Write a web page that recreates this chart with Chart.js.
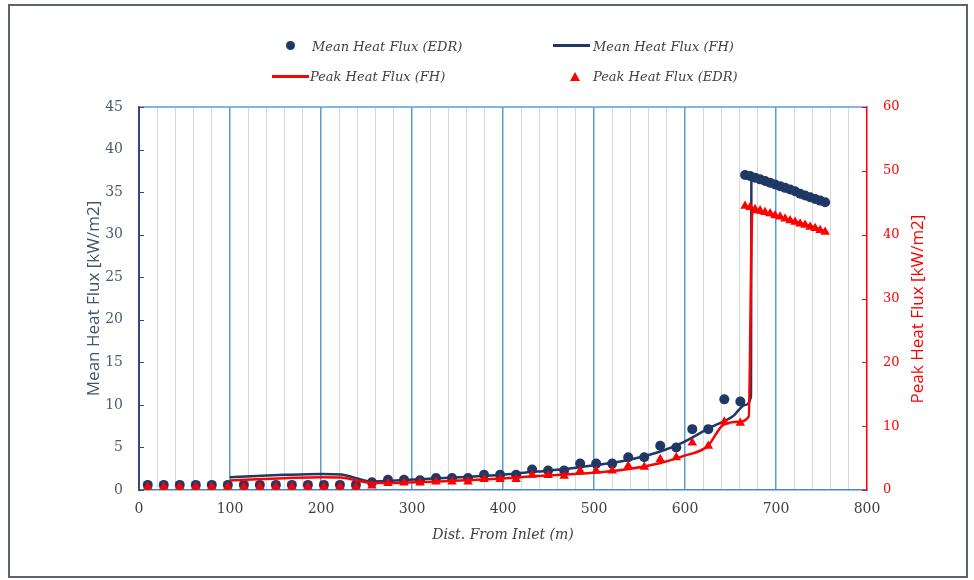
<!DOCTYPE html>
<html><head><meta charset="utf-8">
<script src="https://cdn.jsdelivr.net/npm/chart.js@4.4.1/dist/chart.umd.min.js"></script>
<style>
body{margin:0;background:#fff;}
#wrap{position:relative;width:974px;height:580px;overflow:hidden;background:#fff;}
#c{position:absolute;left:0;top:0;}
#frame{position:absolute;left:8px;top:4px;width:960px;height:574px;box-sizing:border-box;border:2px solid #5a6377;pointer-events:none;}
.lg{position:absolute;font:italic 13px "DejaVu Serif";color:#404040;white-space:nowrap;line-height:16px;}
.mk{position:absolute;}
#rtitle{position:absolute;left:805px;top:299px;width:220px;height:20px;line-height:20px;text-align:center;font:17px "Open Sans";color:#ff0000;transform:rotate(-90deg);transform-origin:50% 50%;white-space:nowrap;}
</style></head>
<body>
<div id="wrap">
<canvas id="c" width="974" height="580"></canvas>
<div id="frame"></div>
<div class="mk" style="left:285.5px;top:41px;width:9px;height:9px;border-radius:50%;background:#1f3864;"></div>
<div class="lg" style="left:312px;top:38.5px;">Mean Heat Flux (EDR)</div>
<div class="mk" style="left:553px;top:44px;width:37px;height:2.5px;background:#1f3864;"></div>
<div class="lg" style="left:593px;top:38.5px;">Mean Heat Flux (FH)</div>
<div class="mk" style="left:272px;top:75px;width:37px;height:2.5px;background:#ff0000;"></div>
<div class="lg" style="left:310px;top:68.5px;">Peak Heat Flux (FH)</div>
<div class="mk" style="left:570px;top:71.5px;width:0;height:0;border-left:5px solid transparent;border-right:5px solid transparent;border-bottom:9px solid #ff0000;"></div>
<div class="lg" style="left:593px;top:68.5px;">Peak Heat Flux (EDR)</div>
<div id="rtitle">Peak Heat Flux [kW/m2]</div>
</div>
<script>
// ---- data ----
const edrDist = [9.6, 27.2, 44.8, 62.4, 80.0, 97.6, 115.2, 132.8, 150.4, 168.0, 185.6, 203.2, 220.8, 238.4,
  256.0, 273.6, 291.2, 308.8, 326.4, 344.0, 361.6, 379.2, 396.8, 414.4, 432.0, 449.6, 467.2, 484.8,
  502.4, 520.0, 537.6, 555.2, 572.8, 590.4, 608.0, 625.6, 643.2, 660.8,
  666.0, 671.5, 677.0, 682.5, 688.0, 693.5, 699.0, 704.5, 710.0, 715.5, 721.0, 726.5, 732.0, 737.5, 743.0, 748.5, 754.0];
const edrMean = [0.6, 0.6, 0.6, 0.6, 0.6, 0.6, 0.6, 0.6, 0.6, 0.6, 0.6, 0.6, 0.6, 0.6,
  0.9, 1.2, 1.2, 1.15, 1.4, 1.4, 1.4, 1.8, 1.8, 1.8, 2.4, 2.3, 2.3, 3.1,
  3.1, 3.1, 3.85, 3.85, 5.2, 5.0, 7.15, 7.15, 10.65, 10.4,
  37.0, 36.9, 36.7, 36.5, 36.3, 36.1, 35.9, 35.7, 35.5, 35.3, 35.1, 34.8, 34.6, 34.4, 34.2, 34.0, 33.8];
const edrPeak = [0.5, 0.5, 0.5, 0.5, 0.5, 0.5, 0.5, 0.5, 0.5, 0.5, 0.5, 0.5, 0.5, 0.5,
  0.65, 1.05, 1.15, 1.15, 1.3, 1.3, 1.3, 1.7, 1.7, 1.7, 2.35, 2.3, 2.2, 3.0,
  3.0, 3.0, 3.75, 3.6, 4.8, 5.1, 7.4, 6.9, 10.7, 10.5,
  44.5, 44.3, 44.0, 43.8, 43.5, 43.3, 43.0, 42.8, 42.5, 42.2, 42.0, 41.7, 41.5, 41.2, 41.0, 40.7, 40.4];
const fhMeanDist = [100, 130, 160, 200, 222, 240, 254, 270, 291, 330, 364, 400, 437, 463, 500, 536, 572, 598, 627, 653, 666, 672.5, 673, 690, 710, 730, 755];
const fhMean = [1.5, 1.65, 1.78, 1.88, 1.82, 1.35, 1.0, 1.05, 1.18, 1.38, 1.57, 1.8, 2.16, 2.4, 2.9, 3.5, 4.5, 5.6, 7.3, 8.7, 10.0, 11.0, 37.0, 36.3, 35.5, 34.7, 33.7];
const fhPeakDist = [100, 130, 160, 200, 222, 240, 254, 270, 291, 330, 364, 400, 437, 463, 500, 536, 572, 598, 625, 642, 659, 670, 674, 690, 710, 730, 755];
const fhPeak = [1.5, 1.7, 1.85, 2.0, 1.95, 1.45, 1.15, 1.1, 1.15, 1.35, 1.55, 1.8, 2.2, 2.4, 2.7, 3.25, 4.2, 5.3, 6.9, 10.2, 10.7, 11.5, 43.6, 43.2, 42.5, 41.7, 40.5];
const xRange = [0, 800];      // tick labels every 100, minor grid every 20
const meanRange = [0, 45];    // left axis, step 5
const peakRange = [0, 60];    // right axis, step 10
const seriesNames = ['Peak Heat Flux (EDR)', 'Peak Heat Flux (FH)', 'Mean Heat Flux (FH)', 'Mean Heat Flux (EDR)'];

const pts = (xs, ys) => xs.map((x, i) => ({x: x, y: ys[i]}));
const NAVY = '#1f3864', RED = '#ff0000';

const frameLines = {
  id: 'frameLines',
  afterDraw(chart) {
    const {ctx, chartArea: a, scales} = chart;
    ctx.save();
    ctx.strokeStyle = '#5b9bd5'; ctx.lineWidth = 1.5;
    ctx.beginPath(); ctx.moveTo(a.left, a.top); ctx.lineTo(a.right, a.top); ctx.stroke();
    ctx.lineWidth = 1;
    ctx.strokeStyle = '#2e4a7d';
    scales.y.ticks.forEach(t => {
      const yy = Math.round(scales.y.getPixelForValue(t.value)) + 0.5;
      ctx.beginPath(); ctx.moveTo(a.left, yy); ctx.lineTo(a.left + 5, yy); ctx.stroke();
    });
    ctx.strokeStyle = RED;
    scales.y2.ticks.forEach(t => {
      const yy = Math.round(scales.y2.getPixelForValue(t.value)) + 0.5;
      ctx.beginPath(); ctx.moveTo(a.right - 5, yy); ctx.lineTo(a.right, yy); ctx.stroke();
    });
    ctx.restore();
  }
};

new Chart(document.getElementById('c'), {
  type: 'scatter',
  data: {
    datasets: [
      {label: seriesNames[0], data: pts(edrDist, edrPeak), yAxisID: 'y2', showLine: false,
       pointStyle: 'triangle', pointRadius: 5.5, backgroundColor: RED, borderColor: RED, borderWidth: 0},
      {label: seriesNames[1], data: pts(fhPeakDist, fhPeak), yAxisID: 'y2', showLine: true,
       pointRadius: 0, borderColor: RED, borderWidth: 2.5, cubicInterpolationMode: 'monotone', fill: false},
      {label: seriesNames[2], data: pts(fhMeanDist, fhMean), yAxisID: 'y', showLine: true,
       pointRadius: 0, borderColor: NAVY, borderWidth: 2.5, cubicInterpolationMode: 'monotone', fill: false},
      {label: seriesNames[3], data: pts(edrDist, edrMean), yAxisID: 'y', showLine: false,
       pointStyle: 'circle', pointRadius: 5, backgroundColor: NAVY, borderColor: NAVY, borderWidth: 0}
    ]
  },
  options: {
    responsive: false,
    animation: false,
    events: [],
    layout: {padding: {top: 107, left: 0, right: 0, bottom: 0}},
    plugins: {legend: {display: false}, tooltip: {enabled: false}},
    scales: {
      x: {
        type: 'linear', min: xRange[0], max: xRange[1],
        afterFit(s) { s.height = 90; },
        ticks: {stepSize: 20, autoSkip: false, maxRotation: 0, padding: 11,
          callback: v => (Math.round(v) % 100 === 0 ? Math.round(v) : ''),
          color: '#404040', font: {family: 'DejaVu Serif', size: 14}},
        grid: {drawTicks: false,
          color: c => { const v = Math.round(c.tick.value); if (v === 0 || v === 800) return 'rgba(0,0,0,0)'; return v % 100 === 0 ? '#5b9bd5' : '#d9d9d9'; },
          lineWidth: c => (Math.round(c.tick.value) % 100 === 0 ? 1.5 : 1)},
        border: {color: '#4a86c5', width: 1.5},
        title: {display: true, text: 'Dist. From Inlet (m)', color: '#404040',
          font: {family: 'DejaVu Serif', size: 14, style: 'italic'}, padding: {top: 0, bottom: 36}}
      },
      y: {
        position: 'left', min: meanRange[0], max: meanRange[1],
        afterFit(s) { s.width = 139; },
        ticks: {stepSize: 5, padding: 16, color: '#4f5b70', font: {family: 'DejaVu Serif', size: 14}},
        grid: {display: false, drawTicks: false},
        border: {color: '#2e4a7d', width: 2},
        title: {display: true, text: 'Mean Heat Flux [kW/m2]', color: '#44546a',
          font: {family: 'Open Sans', size: 17}, padding: {top: 84, bottom: 0}}
      },
      y2: {
        position: 'right', min: peakRange[0], max: peakRange[1],
        afterFit(s) { s.width = 107; },
        ticks: {stepSize: 10, padding: 16, color: RED, font: {family: 'DejaVu Serif', size: 13}},
        grid: {display: false, drawTicks: false},
        border: {color: RED, width: 1.5}
      }
    }
  },
  plugins: [frameLines]
});
</script>
</body></html>
